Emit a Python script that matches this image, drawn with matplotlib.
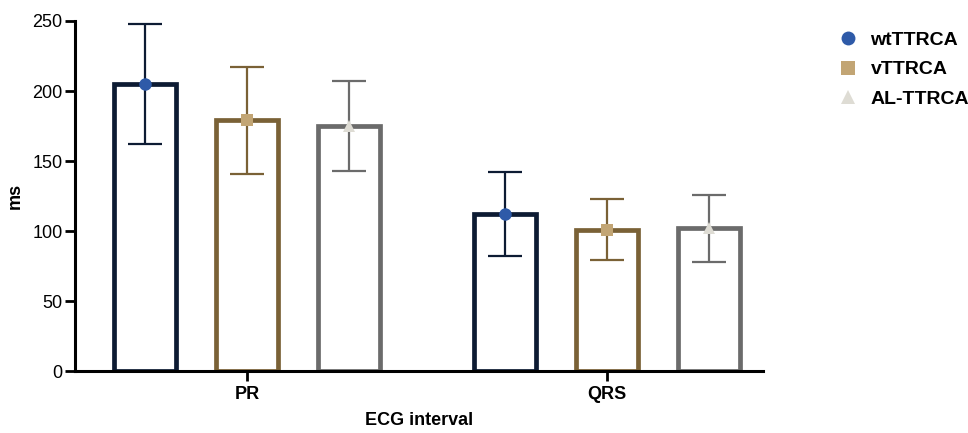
import matplotlib.pyplot as plt
import numpy as np
from matplotlib.lines import Line2D

plt.rcParams['font.family'] = ['Liberation Sans', 'DejaVu Sans']

# Данные
intervals = ['PR', 'QRS']
groups = ['wtTTRCA', 'vTTRCA', 'AL-TTRCA']
means = {
    'wtTTRCA': [205, 112],
    'vTTRCA': [179, 101],
    'AL-TTRCA': [175, 102],
}
errors = {
    'wtTTRCA': [43, 30],
    'vTTRCA': [38, 22],
    'AL-TTRCA': [32, 24],
}

edge_colors = ['#0d1b33', '#7a6136', '#6b6b6b']
marker_colors = ['#2e5aa8', '#c2a574', '#dedcd4']
markers = ['o', 's', '^']
offsets = [-0.283, 0.0, 0.283]
width = 0.172

fig = plt.figure(figsize=(9.68, 4.33), dpi=100)
ax = fig.add_axes([75 / 968, 1 - 371 / 433, (763 - 75) / 968, (371 - 21) / 433])

x = np.arange(len(intervals))
for i, g in enumerate(groups):
    xs = x + offsets[i]
    ax.bar(xs, means[g], width=width, facecolor='white', edgecolor=edge_colors[i],
           linewidth=3.4, zorder=2)
    ax.errorbar(xs, means[g], yerr=errors[g], fmt='none', ecolor=edge_colors[i],
                elinewidth=1.6, capsize=12, capthick=1.6, zorder=3)
    ax.plot(xs, means[g], linestyle='none', marker=markers[i], markersize=9,
            color=marker_colors[i], markeredgewidth=0, zorder=4)

ax.set_xlim(-0.478, 1.433)
ax.set_ylim(0, 250)
ax.set_yticks([0, 50, 100, 150, 200, 250])
ax.set_xticks(x)
ax.set_xticklabels(intervals, fontweight='bold', fontsize=13)
ax.tick_params(axis='y', labelsize=13, width=2, length=7, pad=2)
ax.tick_params(axis='x', width=2, length=7, pad=4)
for side in ['top', 'right']:
    ax.spines[side].set_visible(False)
ax.spines['left'].set_linewidth(2.2)
ax.spines['bottom'].set_linewidth(2.2)
ax.set_ylabel('ms', fontweight='bold', fontsize=13, labelpad=6)
ax.set_xlabel('ECG interval', fontweight='bold', fontsize=13, labelpad=6)

# Легенда справа сверху
handles = [Line2D([], [], linestyle='none', marker=markers[i], markersize=10,
                  color=marker_colors[i], markeredgewidth=0) for i in range(3)]
fig.legend(handles, groups, loc='upper left', bbox_to_anchor=(818 / 968, 1 - 14 / 433),
           frameon=False, prop={'weight': 'bold', 'size': 14}, handletextpad=0.5,
           labelspacing=0.6, handlelength=1.3)

fig.savefig('out.png', dpi=100)
